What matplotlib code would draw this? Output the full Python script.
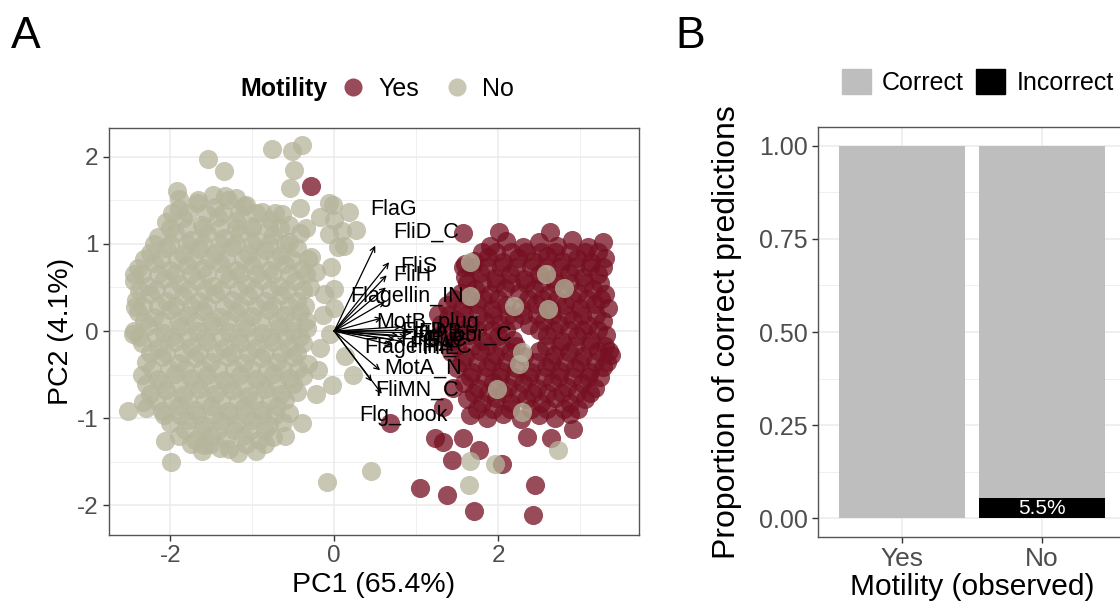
import numpy as np
import matplotlib
matplotlib.use("Agg")
import matplotlib.pyplot as plt
from matplotlib.lines import Line2D
from matplotlib.patches import Patch

plt.rcParams['font.family'] = ['Liberation Sans', 'DejaVu Sans']
plt.rcParams['axes.unicode_minus'] = False

# ---- panel A: PCA scores ----
no_points = [
    # upper outliers
    (-0.76, 2.09), (-0.52, 2.07), (-0.39, 2.14), (-1.54, 1.97), (-1.35, 1.84),
    (-0.49, 1.85), (-0.54, 1.64), (-1.92, 1.61), (-0.06, 1.47), (0.00, 1.28),
    (0.10, 1.15), (-0.06, 1.11), (0.04, 0.96), (-0.18, 1.31), (-0.64, 1.34),
    (-0.88, 1.37), (-0.42, 1.41), (-0.04, 0.73), (0.18, 1.37), (0.26, 1.16),
    (0.12, 0.98), (-0.02, 1.45), (-1.90, 1.52), (-1.66, 1.50), (-1.48, 1.56),
    (-1.33, 1.55), (-1.20, 1.53), (-1.08, 1.45),
    # main body
    (-1.90, 1.40), (-1.68, 1.47), (-1.45, 1.42), (-1.30, 1.50), (-1.10, 1.44),
    (-2.05, 1.25), (-1.85, 1.30), (-1.62, 1.22), (-1.42, 1.31), (-1.20, 1.26),
    (-1.00, 1.20), (-0.78, 1.28), (-0.55, 1.22), (-0.35, 1.18),
    (-2.15, 1.08), (-1.95, 1.12), (-1.75, 1.05), (-1.55, 1.13), (-1.35, 1.07),
    (-1.15, 1.12), (-0.95, 1.04), (-0.75, 1.10), (-0.55, 1.02), (-0.42, 1.12),
    (-2.25, 0.90), (-2.05, 0.95), (-1.85, 0.88), (-1.65, 0.94), (-1.45, 0.90),
    (-1.25, 0.96), (-1.05, 0.88), (-0.85, 0.93), (-0.65, 0.87), (-0.45, 0.95),
    (-0.28, 0.85),
    (-2.40, 0.72), (-2.20, 0.78), (-2.00, 0.70), (-1.80, 0.76), (-1.60, 0.72),
    (-1.40, 0.78), (-1.20, 0.70), (-1.00, 0.76), (-0.80, 0.70), (-0.60, 0.77),
    (-0.40, 0.71), (-0.22, 0.68),
    (-2.45, 0.58), (-2.28, 0.52), (-2.08, 0.60), (-1.88, 0.54), (-1.68, 0.58),
    (-1.48, 0.52), (-1.28, 0.60), (-1.08, 0.54), (-0.88, 0.59), (-0.68, 0.52),
    (-0.48, 0.57), (-0.30, 0.50),
    (-2.42, 0.36), (-2.25, 0.42), (-2.05, 0.34), (-1.85, 0.40), (-1.65, 0.35),
    (-1.45, 0.42), (-1.25, 0.36), (-1.05, 0.40), (-0.85, 0.34), (-0.65, 0.41),
    (-0.45, 0.35),
    (-2.40, 0.22), (-2.20, 0.16), (-2.00, 0.24), (-1.80, 0.18), (-1.60, 0.23),
    (-1.40, 0.16), (-1.20, 0.22), (-1.00, 0.17), (-0.80, 0.24), (-0.60, 0.18),
    (-0.42, 0.22),
    (-2.45, 0.00), (-2.27, 0.06), (-2.08, -0.02), (-1.88, 0.05), (-1.68, 0.00),
    (-1.48, 0.06), (-1.28, -0.01), (-1.08, 0.04), (-0.88, -0.02), (-0.68, 0.05),
    (-0.50, 0.00), (-0.33, 0.04),
    (-2.35, -0.14), (-2.15, -0.20), (-1.95, -0.12), (-1.75, -0.18), (-1.55, -0.13),
    (-1.35, -0.20), (-1.15, -0.14), (-0.95, -0.19), (-0.75, -0.12), (-0.55, -0.18),
    (-0.38, -0.14),
    (-2.30, -0.36), (-2.10, -0.30), (-1.90, -0.37), (-1.70, -0.31), (-1.50, -0.36),
    (-1.30, -0.30), (-1.10, -0.37), (-0.90, -0.31), (-0.70, -0.36), (-0.50, -0.30),
    (-0.32, -0.38),
    (-2.35, -0.50), (-2.15, -0.55), (-1.95, -0.49), (-1.75, -0.54), (-1.55, -0.50),
    (-1.35, -0.56), (-1.15, -0.50), (-0.95, -0.55), (-0.75, -0.49), (-0.55, -0.54),
    (-0.38, -0.52),
    (-2.25, -0.72), (-2.05, -0.68), (-1.85, -0.73), (-1.65, -0.67), (-1.45, -0.72),
    (-1.25, -0.68), (-1.05, -0.74), (-0.85, -0.67), (-0.65, -0.72), (-0.45, -0.70),
    (-2.30, -0.88), (-2.10, -0.92), (-1.90, -0.86), (-1.70, -0.90), (-1.50, -0.86),
    (-1.30, -0.92), (-1.10, -0.87), (-0.90, -0.90), (-0.70, -0.86), (-0.55, -0.94),
    (-2.00, -1.05), (-1.80, -1.02), (-1.60, -1.08), (-1.40, -1.03), (-1.20, -1.07),
    (-1.00, -1.02), (-0.80, -1.08), (-0.62, -1.04),
    (-1.90, -1.20), (-1.70, -1.25), (-1.50, -1.20), (-1.32, -1.24), (-1.12, -1.20),
    (-0.92, -1.25), (-0.75, -1.22),
    (-1.62, -1.38), (-1.40, -1.34), (-1.18, -1.40), (-0.95, -1.38),
    # edges and stragglers
    (-2.45, 0.65), (-2.43, 0.28), (-2.52, -0.92), (-2.33, -0.81), (-2.07, -1.26),
    (-1.99, -1.50), (-1.59, -1.31), (-1.29, -1.35), (-0.60, -1.20), (-0.40, -1.06),
    (-0.22, -0.72), (-0.03, -0.62), (0.23, -0.50), (0.13, -0.29), (-0.09, -1.73),
    (0.45, -1.61), (0.00, 0.27), (0.00, 0.48), (-0.05, -0.03), (-2.46, -0.03),
    (-0.12, 0.42), (-0.14, 0.18), (-0.18, -0.20), (-0.20, -0.45),
    # inside the motile cluster
    (2.19, 0.29), (2.81, 0.49), (2.61, 0.25), (1.66, 0.40), (2.29, -0.24),
    (2.25, -0.38), (1.99, -0.66), (2.29, -0.93), (2.73, -1.37), (1.66, -1.49),
    (1.65, -1.77), (1.96, -1.52), (2.59, 0.65), (1.66, 0.79),
]

# extra rows that fill the dense part of the non-motile cloud: (y, x values)
no_rows = [
    (1.36, [-1.98, -1.78, -1.56, -1.36, -1.16, -0.96, -0.72]),
    (1.18, [-2.00, -1.80, -1.60, -1.40, -1.20, -1.00, -0.80, -0.66]),
    (1.00, [-2.20, -2.00, -1.80, -1.60, -1.40, -1.20, -1.00, -0.80, -0.60]),
    (0.83, [-2.32, -2.12, -1.92, -1.72, -1.52, -1.32, -1.12, -0.92, -0.72, -0.52, -0.32]),
    (0.65, [-2.35, -2.15, -1.95, -1.75, -1.55, -1.35, -1.15, -0.95, -0.75, -0.55, -0.35]),
    (0.47, [-2.38, -2.18, -1.98, -1.78, -1.58, -1.38, -1.18, -0.98, -0.78, -0.58, -0.38]),
    (0.29, [-2.33, -2.15, -1.95, -1.75, -1.55, -1.35, -1.15, -0.95, -0.75, -0.55, -0.36]),
    (0.11, [-2.32, -2.10, -1.90, -1.70, -1.50, -1.30, -1.10, -0.90, -0.70, -0.50, -0.35]),
    (-0.07, [-2.38, -2.18, -1.98, -1.78, -1.58, -1.38, -1.18, -0.98, -0.78, -0.60, -0.42]),
    (-0.25, [-2.25, -2.05, -1.85, -1.65, -1.45, -1.25, -1.05, -0.85, -0.65, -0.45]),
    (-0.43, [-2.22, -2.02, -1.82, -1.62, -1.42, -1.22, -1.02, -0.82, -0.62, -0.44]),
    (-0.61, [-2.30, -2.10, -1.90, -1.70, -1.50, -1.30, -1.10, -0.90, -0.70, -0.50]),
    (-0.79, [-2.18, -1.98, -1.78, -1.58, -1.38, -1.18, -0.98, -0.78, -0.60]),
    (-0.96, [-2.08, -1.88, -1.68, -1.48, -1.28, -1.08, -0.88, -0.72]),
    (-1.13, [-1.82, -1.62, -1.42, -1.22, -1.02, -0.84]),
    (-1.30, [-1.75, -1.52, -1.08, -0.85]),
]

yes_points = [
    (-0.29, 1.66),
    (1.90, 0.98), (2.10, 1.03), (2.30, 0.97), (2.50, 1.02), (2.72, 0.98),
    (2.90, 1.04), (3.10, 0.97), (3.28, 1.02),
    (1.70, 0.80), (1.88, 0.85), (2.06, 0.79), (2.24, 0.84), (2.42, 0.80),
    (2.60, 0.86), (2.78, 0.80), (2.96, 0.84), (3.14, 0.79), (3.30, 0.84),
    (1.60, 0.62), (1.78, 0.67), (1.96, 0.61), (2.14, 0.66), (2.32, 0.60),
    (2.50, 0.65), (2.68, 0.61), (2.86, 0.67), (3.04, 0.62), (3.22, 0.66),
    (1.55, 0.44), (1.72, 0.48), (1.90, 0.43), (2.08, 0.49), (2.26, 0.44),
    (2.44, 0.48), (2.62, 0.43), (2.80, 0.49), (2.98, 0.44), (3.16, 0.48),
    (3.30, 0.42),
    (1.38, 0.30), (1.56, 0.26), (1.74, 0.31), (1.92, 0.25), (2.10, 0.30),
    (2.28, 0.26), (2.46, 0.31), (2.64, 0.25), (2.82, 0.30), (3.00, 0.26),
    (3.18, 0.31), (3.34, 0.26),
    (1.30, 0.08), (1.48, 0.13), (1.66, 0.07), (1.84, 0.12), (2.02, 0.08),
    (2.20, 0.13), (2.38, 0.07), (2.56, 0.12), (2.74, 0.08), (2.92, 0.13),
    (3.10, 0.07), (3.28, 0.12),
    (1.28, -0.06), (1.46, -0.10), (1.64, -0.05), (1.82, -0.11), (2.00, -0.06),
    (2.18, -0.10), (2.60, -0.05), (2.78, -0.11), (2.96, -0.06), (3.14, -0.10),
    (3.32, -0.05),
    (1.42, -0.24), (1.60, -0.29), (1.78, -0.23), (1.96, -0.28), (2.14, -0.24),
    (2.32, -0.29), (2.50, -0.23), (2.68, -0.28), (2.86, -0.24), (3.04, -0.29),
    (3.22, -0.23), (3.38, -0.28),
    (1.50, -0.42), (1.68, -0.47), (1.86, -0.41), (2.04, -0.46), (2.22, -0.42),
    (2.40, -0.47), (2.58, -0.41), (2.76, -0.46), (2.94, -0.42), (3.12, -0.47),
    (3.28, -0.41),
    (1.58, -0.60), (1.76, -0.65), (1.94, -0.59), (2.12, -0.64), (2.30, -0.60),
    (2.48, -0.65), (2.66, -0.59), (2.84, -0.64), (3.02, -0.60), (3.18, -0.65),
    (1.62, -0.78), (1.80, -0.83), (1.98, -0.77), (2.16, -0.82), (2.34, -0.78),
    (2.52, -0.83), (2.70, -0.77), (2.88, -0.82), (3.06, -0.78),
    (1.66, -0.96), (1.86, -1.00), (2.06, -0.95), (2.28, -1.01), (2.50, -0.96),
    (2.70, -1.00), (2.88, -0.95),
    # stragglers
    (1.57, 1.13), (2.01, 1.14), (2.63, 1.14), (1.57, 0.73), (1.60, 0.77),
    (3.35, -0.23), (2.92, -1.12), (2.35, -1.21), (2.65, -1.23), (1.33, -1.27),
    (1.44, -1.48), (1.77, -1.37), (2.05, -1.52), (2.45, -1.77), (1.38, -1.88),
    (1.71, -2.07), (2.43, -2.11), (1.05, -1.80), (1.57, -1.23), (1.23, -1.23),
    (0.68, -1.06), (1.33, -0.87), (1.27, 0.20), (1.47, -0.09), (1.45, -0.65),
]

yes_rows = [
    (0.91, [1.80, 1.98, 2.16, 2.34, 2.52, 2.70, 2.88, 3.06, 3.22]),
    (0.73, [1.68, 1.86, 2.04, 2.22, 2.40, 2.58, 2.76, 2.94, 3.12, 3.28]),
    (0.55, [1.62, 1.80, 1.98, 2.16, 2.34, 2.52, 2.70, 2.88, 3.06, 3.24]),
    (0.37, [1.46, 1.64, 1.82, 2.00, 2.36, 2.54, 2.72, 2.90, 3.08, 3.26]),
    (0.19, [1.40, 1.58, 1.76, 1.94, 2.12, 2.30, 2.48, 2.66, 2.84, 3.02, 3.20]),
    (0.01, [1.38, 1.56, 1.74, 1.92, 2.10, 2.50, 2.68, 2.86, 3.04, 3.22]),
    (-0.17, [1.50, 1.68, 1.86, 2.04, 2.22, 2.58, 2.76, 2.94, 3.12, 3.30]),
    (-0.35, [1.56, 1.74, 1.92, 2.10, 2.46, 2.64, 2.82, 3.00, 3.18, 3.33]),
    (-0.53, [1.66, 1.84, 2.02, 2.20, 2.38, 2.56, 2.74, 2.92, 3.10, 3.24]),
    (-0.71, [1.70, 1.88, 2.06, 2.24, 2.42, 2.60, 2.78, 2.96, 3.12]),
    (-0.89, [1.74, 1.94, 2.14, 2.40, 2.60, 2.80, 2.98]),
]

# loadings arrows: (tip x, tip y, label, label x, label y)
loadings = [
    (0.50, 0.98, "FlaG", 0.72, 1.40),
    (0.67, 0.79, "FliD_C", 1.12, 1.14),
    (0.64, 0.64, "FliS", 1.03, 0.74),
    (0.63, 0.50, "FliH", 0.95, 0.64),
    (0.62, 0.34, "Flagellin_IN", 0.89, 0.40),
    (0.58, 0.15, "MotB_plug", 1.14, 0.10),
    (0.82, 0.05, "FlgD", 1.10, 0.00),
    (0.90, 0.01, "FlhB", 1.30, -0.02),
    (0.95, -0.02, "Flg_bbr_C", 1.55, -0.05),
    (0.78, -0.05, "FliG_C", 1.22, -0.10),
    (0.88, -0.07, "FliP", 1.35, -0.12),
    (0.74, -0.10, "Flagellin_C", 1.02, -0.19),
    (0.85, -0.12, "FliE", 1.30, -0.20),
    (0.70, -0.16, "FlhA", 1.18, -0.16),
    (0.56, -0.45, "MotA_N", 1.09, -0.43),
    (0.58, -0.72, "FliMN_C", 1.01, -0.68),
    (0.46, -0.58, "Flg_hook", 0.85, -0.97),
]

# ---- panel B: prediction accuracy ----
motility = ["Yes", "No"]
correct = [1.000, 0.945]
incorrect = [0.000, 0.055]
incorrect_label = "5.5%"

yes_col = "#761022"
no_col = "#b5b59b"
grid_col = "#ebebeb"
tick_col = "#4d4d4d"

fig = plt.figure(figsize=(11.2, 6.04), dpi=100)

# ---------------- A ----------------
ax = fig.add_axes([109 / 1120, 69 / 604, 530 / 1120, 407 / 604])
yes = np.array(yes_points + [(x, y) for y, xs in yes_rows for x in xs])
no = np.array(no_points + [(x, y) for y, xs in no_rows for x in xs])
ax.scatter(yes[:, 0], yes[:, 1], s=190, color=yes_col, alpha=0.75, linewidths=0, zorder=2)
ax.scatter(no[:, 0], no[:, 1], s=190, color=no_col, alpha=0.75, linewidths=0, zorder=2)

for tx, ty, lab, lx, ly in loadings:
    ax.annotate("", xy=(tx, ty), xytext=(0, 0),
                arrowprops=dict(arrowstyle="->", lw=0.9, color="black",
                                shrinkA=0, shrinkB=0, mutation_scale=9), zorder=3)
    ax.text(lx, ly, lab, fontsize=15.5, ha="center", va="center", color="black", zorder=4)

ax.set_xticks([-2, 0, 2])
ax.set_xticks([-1, 1, 3], minor=True)
ax.set_yticks([-2, -1, 0, 1, 2])
ax.set_yticks([-1.5, -0.5, 0.5, 1.5], minor=True)
ax.set_xlim(-2.75, 3.72)
ax.set_ylim(-2.34, 2.33)
ax.grid(which="major", color=grid_col, lw=1.1, zorder=0)
ax.grid(which="minor", color=grid_col, lw=0.55, zorder=0)
ax.set_axisbelow(True)
ax.tick_params(which="major", length=4, width=1, color="#333333",
               labelsize=17.5, labelcolor=tick_col)
ax.tick_params(which="minor", length=0)
for sp in ax.spines.values():
    sp.set_color("#555555")
    sp.set_linewidth(1)
ax.set_xlabel("PC1 (65.4%)", fontsize=20.5, labelpad=3)
ax.set_ylabel("PC2 (4.1%)", fontsize=20.5, labelpad=2)

fig.text(240 / 1120, 1 - 89 / 604, "Motility", fontsize=18, fontweight="bold",
         ha="left", va="center")
leg_handles = [
    Line2D([], [], ls="", marker="o", markersize=13, color=yes_col, alpha=0.75, markeredgewidth=0),
    Line2D([], [], ls="", marker="o", markersize=13, color=no_col, alpha=0.75, markeredgewidth=0),
]
fig.legend(leg_handles, ["Yes", "No"], loc="center left",
           bbox_to_anchor=(341 / 1120, 1 - 89 / 604), ncol=2, frameon=False,
           fontsize=18, handlelength=1.0, handletextpad=0.5, columnspacing=1.0,
           borderpad=0, borderaxespad=0)

fig.text(26 / 1120, 1 - 36 / 604, "A", fontsize=32, ha="center", va="center")

# ---------------- B ----------------
bx = fig.add_axes([818 / 1120, 67 / 604, 308 / 1120, 410 / 604])
pos = np.arange(1, len(motility) + 1)
bx.bar(pos, incorrect, width=0.9, color="black", zorder=2)
bx.bar(pos, correct, width=0.9, bottom=incorrect, color="#bebebe", zorder=2)
bx.text(pos[1], incorrect[1] / 2, incorrect_label, color="white", fontsize=15,
        ha="center", va="center", zorder=3)

bx.set_xticks(pos)
bx.set_xticklabels(motility)
bx.set_yticks([0, 0.25, 0.5, 0.75, 1.0])
bx.set_yticklabels(["0.00", "0.25", "0.50", "0.75", "1.00"])
bx.set_yticks([0.125, 0.375, 0.625, 0.875], minor=True)
bx.set_xlim(0.4, 2.6)
bx.set_ylim(-0.05, 1.05)
bx.grid(which="major", color=grid_col, lw=1.1, zorder=0)
bx.grid(which="minor", axis="y", color=grid_col, lw=0.55, zorder=0)
bx.set_axisbelow(True)
bx.tick_params(which="major", length=4, width=1, color="#333333",
               labelsize=18, labelcolor=tick_col)
bx.tick_params(axis="x", labelsize=19)
bx.tick_params(which="minor", length=0)
for sp in bx.spines.values():
    sp.set_color("#555555")
    sp.set_linewidth(1)
bx.set_xlabel("Motility (observed)", fontsize=21.5, labelpad=1)
bx.set_ylabel("Proportion of correct predictions", fontsize=23, labelpad=12)

fig.legend([Patch(color="#bebebe"), Patch(color="black")], ["Correct", "Incorrect"],
           loc="center left", bbox_to_anchor=(842 / 1120, 1 - 82 / 604), ncol=2,
           frameon=False, fontsize=18, handlelength=1.15, handleheight=1.15,
           handletextpad=0.45, columnspacing=0.5, borderpad=0, borderaxespad=0)

fig.text(690 / 1120, 1 - 36 / 604, "B", fontsize=32, ha="center", va="center")

fig.savefig("out.png", dpi=100)
